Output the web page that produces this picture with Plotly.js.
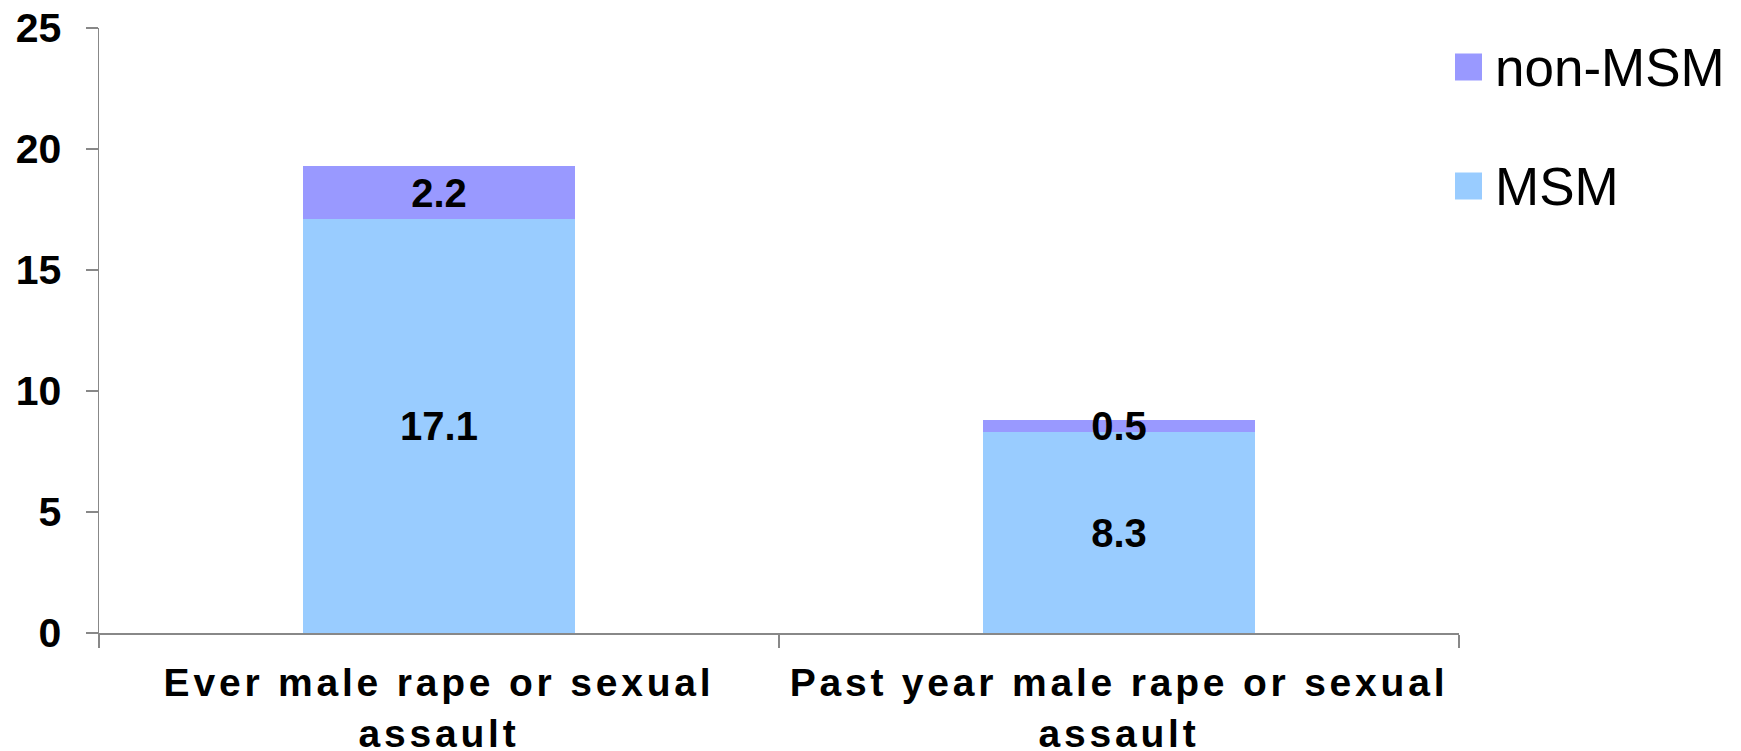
<!DOCTYPE html>
<html>
<head>
<meta charset="utf-8">
<script src="https://cdn.plot.ly/plotly-3.0.1.min.js"></script>
<style>
  html, body { margin: 0; padding: 0; background: #fff; }
  #chart { width: 1741px; height: 751px; }
  /* spaced-out category labels */
  #chart .xtick text { letter-spacing: 3.8px; }
</style>
</head>
<body>
<div id="chart"></div>
<script>
// Prevalence of male rape / sexual assault, stacked by MSM status
const categories = [
  'Ever male rape or sexual<br>assault',
  'Past year male rape or sexual<br>assault'
];
const msmValues = [17.1, 8.3];
const nonMsmValues = [2.2, 0.5];
const seriesNames = ['MSM', 'non-MSM'];
const seriesColors = ['#99CCFF', '#9999FF'];
const yTicks = [0, 5, 10, 15, 20, 25];

const W = 1741, H = 751;
const M = { l: 99, r: 282, t: 28, b: 118 };
const plotW = W - M.l - M.r;
const plotH = H - M.t - M.b;
const FONT = '"Liberation Sans", Arial, Helvetica, sans-serif';

// pixel position -> paper fraction
const px = x => (x - M.l) / plotW;
const py = y => (H - M.b - y) / plotH;

const labelFont = { family: FONT, size: 40, color: '#000', weight: 700 };

const traces = [
  {
    type: 'bar', name: seriesNames[0], x: categories, y: msmValues,
    marker: { color: seriesColors[0], line: { width: 0 } },
    text: msmValues.map(v => v.toFixed(1)), textposition: 'inside',
    insidetextanchor: 'middle', constraintext: 'none',
    textfont: labelFont, hoverinfo: 'skip', showlegend: false
  },
  {
    type: 'bar', name: seriesNames[1], x: categories, y: nonMsmValues,
    marker: { color: seriesColors[1], line: { width: 0 } },
    text: nonMsmValues.map(v => v.toFixed(1)), textposition: 'inside',
    insidetextanchor: 'middle', constraintext: 'none',
    textfont: labelFont, hoverinfo: 'skip', showlegend: false
  }
];

// Legend drawn by hand so the swatches can be large
const legendRows = [
  { name: seriesNames[1], color: seriesColors[1], cy: 67 },
  { name: seriesNames[0], color: seriesColors[0], cy: 186 }
];
const shapes = legendRows.map(r => ({
  type: 'rect', xref: 'paper', yref: 'paper',
  x0: px(1455), x1: px(1482), y0: py(r.cy + 13.5), y1: py(r.cy - 13.5),
  fillcolor: r.color, line: { width: 0 }
}));
const annotations = legendRows.map(r => ({
  xref: 'paper', yref: 'paper', x: px(1493), y: py(r.cy),
  xanchor: 'left', yanchor: 'middle', showarrow: false,
  text: r.name, font: { family: FONT, size: 53, color: '#000' }
}));

const layout = {
  width: W, height: H,
  margin: M,
  paper_bgcolor: '#fff', plot_bgcolor: '#fff',
  barmode: 'stack', bargap: 0.6,
  showlegend: false,
  uniformtext: { mode: false },
  xaxis: {
    type: 'category',
    showline: true, linecolor: '#888', linewidth: 1.5,
    ticks: 'outside', tickson: 'boundaries', ticklen: 13,
    tickcolor: '#888', tickwidth: 1.5,
    tickfont: { family: FONT, size: 39, color: '#000', weight: 700 },
    ticklabelstandoff: 15,
    showgrid: false, zeroline: false, fixedrange: true
  },
  yaxis: {
    range: [0, 25], tickvals: yTicks, ticktext: yTicks.map(String),
    showline: true, linecolor: '#888', linewidth: 1.5,
    ticks: 'outside', ticklen: 12, tickcolor: '#888', tickwidth: 1.5,
    tickfont: { family: FONT, size: 41, color: '#000', weight: 700 },
    ticklabelstandoff: 16,
    showgrid: false, zeroline: false, fixedrange: true
  },
  shapes: shapes,
  annotations: annotations
};

Plotly.newPlot('chart', traces, layout, { displayModeBar: false, staticPlot: true });
</script>
</body>
</html>
